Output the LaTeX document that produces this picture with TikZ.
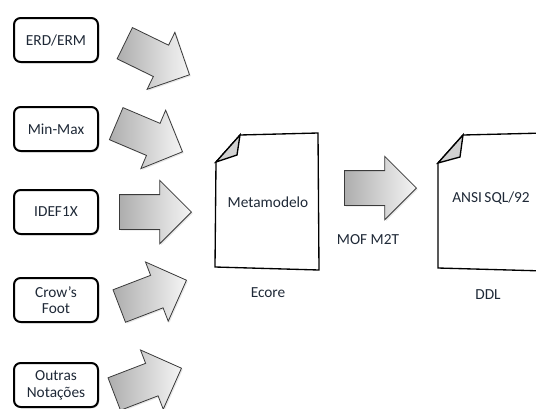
\documentclass[tikz,border=0pt]{standalone}
\usepackage{fontspec}
\setmainfont{Carlito}
\usetikzlibrary{shapes.arrows, shadows}

\definecolor{inktext}{HTML}{1F2937}
\definecolor{arrowline}{HTML}{3A3A3A}

\tikzset{
  notation/.style={draw, line width=1.5pt, rounded corners=5pt, fill=white,
    minimum width=63pt, minimum height=33pt, align=center, text=inktext,
    font=\fontsize{11.5}{12.5}\selectfont,
    drop shadow={shadow xshift=1pt, shadow yshift=-1pt, opacity=0.25}},
  blockarrow/.style={single arrow, draw=arrowline, line width=0.6pt,
    left color=black!32, right color=black!4, minimum height=54pt,
    inner xsep=0pt, inner ysep=12.75pt, single arrow head extend=10.75pt,
    anchor=tip,
    drop shadow={shadow xshift=1pt, shadow yshift=-1pt, opacity=0.2}},
  doctext/.style={text=inktext, font=\fontsize{11.5}{12.5}\selectfont},
  docpage/.style={line width=1pt, fill=white},
  docfold/.style={line width=1pt, fill=black!18}
}

\begin{document}
\begin{tikzpicture}[x=0.75pt, y=-0.75pt]
  \useasboundingbox (0,0) rectangle (536,408);
  \clip (0,0) rectangle (536,408);
  % Notation boxes
  \node[notation] (erd) at (56,40) {ERD/ERM};
  \node[notation] (minmax) at (56,129) {Min-Max};
  \node[notation] (idef) at (56,212) {IDEF1X};
  \node[notation] (crows) at (56,300) {Crow’s\\Foot};
  \node[notation] (outras) at (56,385) {Outras\\Notações};
  % Block arrows towards the metamodel (placed by their tips)
  \foreach \n/\tx/\ty/\ang in {a1/190/75/-26, a2/183/152/-23, a3/192/212/0,
                               a4/187/280/21, a5/182/368/21}{
    \node[blockarrow, rotate=\ang] (\n) at (\tx,\ty) {};
  }
  % Metamodel page
  \draw[docpage] (216,162) -- (240,135) -- (318,133) -- (319,270) -- (215,267) -- cycle;
  \draw[docfold] (240,135) -- (237,155) -- (216,162) -- cycle;
  \node[doctext] (meta) at (268,202) {Metamodelo};
  \node[doctext] (ecore) at (268,293) {Ecore};
  % Transformation
  \node[blockarrow] (m2t) at (417,188) {};
  \node[doctext] (mof) at (368,240) {MOF M2T};
  % DDL page
  \draw[docpage] (438,163) -- (463,135) -- (545,133) -- (545,271) -- (438,268) -- cycle;
  \draw[docfold] (463,135) -- (460,157) -- (438,163) -- cycle;
  \node[doctext] (ansi) at (491,198) {ANSI\,SQL/92};
  \node[doctext] (ddl) at (488,295) {DDL};
\end{tikzpicture}
\end{document}
